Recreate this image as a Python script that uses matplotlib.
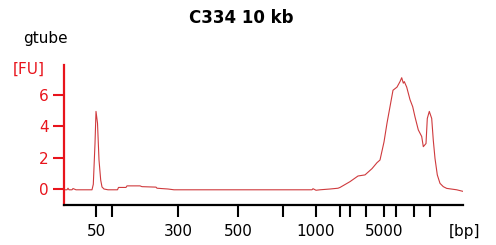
import matplotlib
matplotlib.use("Agg")
import matplotlib.pyplot as plt
import numpy as np

# electropherogram trace: migration position (axis units) and fluorescence [FU]
t = [1, 3, 4, 5, 8, 9, 12, 20, 28, 29.3, 31, 32, 33.5, 35, 36.7, 38, 40, 44,
     53.5, 54.5, 62, 63, 76, 78, 92, 93, 104, 110, 120, 150, 200, 248, 249,
     252, 256, 266, 274, 276, 286, 294, 301, 308, 313, 316, 320, 323, 326,
     329, 333, 336, 337.7, 339.3, 340.3, 342.7, 346, 348.7, 351, 354.3, 357.7,
     359.3, 362, 363.3, 365.3, 367.7, 369.3, 371, 373.3, 376, 379.3, 382.7,
     392.7, 399]
fu = [-0.05, -0.05, 0.05, -0.05, -0.05, 0.03, -0.05, -0.05, -0.05, 0.3, 2.9,
      4.95, 4.2, 1.85, 0.57, 0.13, 0.0, -0.05, -0.05, 0.1, 0.1, 0.2, 0.2, 0.15,
      0.12, 0.05, 0.0, -0.05, -0.05, -0.05, -0.05, -0.05, 0.02, -0.08, -0.05,
      0.0, 0.05, 0.1, 0.47, 0.83, 0.9, 1.3, 1.68, 1.85, 3.0, 4.2, 5.25, 6.3,
      6.5, 6.85, 7.1, 6.75, 6.85, 6.5, 5.7, 5.25, 4.6, 3.77, 3.35, 2.7, 2.9,
      4.5, 4.95, 4.5, 3.1, 1.95, 0.9, 0.36, 0.15, 0.04, -0.05, -0.15]

# ladder positions on the axis and their size labels
ladder_pos = [32, 48, 114, 174, 218.7, 252, 276, 286, 302, 320.3, 332, 350, 366]
ladder_lbl = ["50", "", "300", "500", "", "1000", "", "", "", "5000", "", "", ""]
fu_ticks = [0, 2, 4, 6]

red = "#e8141c"
trace_col = "#cf3a3d"

fig = plt.figure(figsize=(4.96, 2.45), dpi=100)
ax = fig.add_axes([64 / 496, 40 / 245, 399 / 496, 140 / 245])

ax.plot(t, fu, color=trace_col, lw=0.8)

ax.set_xlim(0, 399)
ax.set_ylim(-1.02, 7.91)

ax.set_xticks(ladder_pos)
ax.set_xticklabels(ladder_lbl)
ax.set_yticks(fu_ticks)

ax.spines["top"].set_visible(False)
ax.spines["right"].set_visible(False)
ax.spines["left"].set_color(red)
ax.spines["left"].set_linewidth(1.6)
ax.spines["bottom"].set_color("black")
ax.spines["bottom"].set_linewidth(1.6)

ax.tick_params(axis="x", length=8.5, width=1.5, color="black", labelsize=11, pad=5)
ax.tick_params(axis="y", length=8, width=1.5, color=red, labelcolor=red,
               labelsize=11, pad=3)

fig.text(0.486, 0.925, "C334 10 kb", ha="center", va="center",
         fontsize=12, fontweight="bold")
fig.text(45 / 496, 1 - 39 / 245, "gtube", ha="center", va="center", fontsize=11)
fig.text(29 / 496, 1 - 69 / 245, "[FU]", ha="center", va="center",
         fontsize=11, color=red)
fig.text(464 / 496, 1 - 231 / 245, "[bp]", ha="center", va="center", fontsize=11)

fig.savefig("out.png", dpi=100)
